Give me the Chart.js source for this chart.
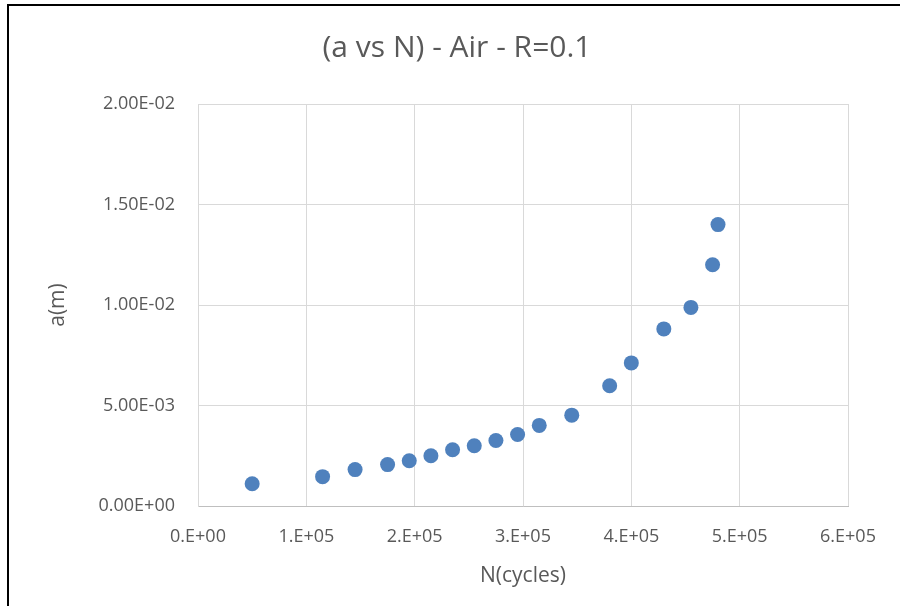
<!DOCTYPE html>
<html>
<head>
<meta charset="utf-8">
<script src="https://cdn.jsdelivr.net/npm/chart.js@4.4.1/dist/chart.umd.min.js"></script>
<style>
    html, body { margin: 0; padding: 0; background: #fff; }
    #wrap { position: relative; width: 900px; height: 606px; overflow: hidden; }
    #frame {
        position: absolute; left: 7px; top: 4px; width: 900px; height: 610px;
        border-left: 2px solid #000; border-top: 2px solid #000;
        pointer-events: none;
    }
</style>
</head>
<body>
<div id="wrap">
    <canvas id="chart" width="900" height="606"></canvas>
    <div id="frame"></div>
</div>
<script>
// data
const cycles = [50000, 115000, 145000, 175000, 195000, 215000, 235000, 255000, 275000,
                295000, 315000, 345000, 380000, 400000, 430000, 455000, 475000, 480000];
const crackLength = [0.00111, 0.00146, 0.00181, 0.00206, 0.00225, 0.0025, 0.0028, 0.003, 0.00326,
                     0.00356, 0.00401, 0.00452, 0.00598, 0.00712, 0.00881, 0.00988, 0.0120, 0.0140];
const xTicks = [0, 100000, 200000, 300000, 400000, 500000, 600000];
const yTicks = [0, 0.005, 0.01, 0.015, 0.02];

const TEXT = '#595959';
const FONT = "'Open Sans', 'Noto Sans', sans-serif";

// Excel-like scientific labels: 2.00E-02, 1.E+05
function sci(v, digits) {
    let [m, e] = Number(v).toExponential(digits).split('e');
    if (digits === 0) m += '.';
    const n = parseInt(e, 10);
    const sign = n < 0 ? '-' : '+';
    return m + 'E' + sign + String(Math.abs(n)).padStart(2, '0');
}

// title drawn centred on the whole frame, like the office chart
const titlePlugin = {
    id: 'frameTitle',
    afterDraw(chart) {
        const ctx = chart.ctx;
        ctx.save();
        ctx.fillStyle = TEXT;
        ctx.font = `30px ${FONT}`;
        ctx.textAlign = 'center';
        ctx.textBaseline = 'middle';
        ctx.fillText('(a vs N) - Air - R=0.1', 457, 48);
        ctx.restore();
    }
};

new Chart(document.getElementById('chart'), {
    type: 'scatter',
    data: {
        datasets: [{
            label: 'a',
            data: cycles.map((n, i) => ({ x: n, y: crackLength[i] })),
            backgroundColor: '#4F81BD',
            borderColor: '#4F81BD',
            borderWidth: 0,
            pointRadius: 7.5,
            pointHoverRadius: 7.5
        }]
    },
    options: {
        responsive: false,
        animation: false,
        layout: { padding: { left: 41, right: 52, top: 104, bottom: 13 } },
        plugins: {
            legend: { display: false },
            title: { display: false },
            tooltip: { enabled: false }
        },
        scales: {
            x: {
                type: 'linear',
                min: 0,
                max: 600000,
                afterBuildTicks(scale) { scale.ticks = xTicks.map(v => ({ value: v })); },
                afterFit(scale) { scale.height = 87; },
                grid: { color: '#D9D9D9', drawTicks: false },
                border: { color: '#BFBFBF' },
                ticks: {
                    padding: 20,
                    color: TEXT,
                    font: { family: FONT, size: 18 },
                    maxRotation: 0,
                    callback: v => sci(v, 0)
                },
                title: {
                    display: true,
                    text: 'N(cycles)',
                    color: TEXT,
                    font: { family: FONT, size: 21 },
                    padding: 4
                }
            },
            y: {
                type: 'linear',
                min: 0,
                max: 0.02,
                afterBuildTicks(scale) { scale.ticks = yTicks.map(v => ({ value: v })); },
                afterFit(scale) { scale.width = 157; },
                grid: { color: '#D9D9D9', drawTicks: false },
                border: { color: '#D9D9D9' },
                ticks: {
                    padding: 23,
                    color: TEXT,
                    font: { family: FONT, size: 18 },
                    callback: v => sci(v, 2)
                },
                title: {
                    display: true,
                    text: 'a(m)',
                    color: TEXT,
                    font: { family: FONT, size: 21 },
                    padding: 4
                }
            }
        }
    },
    plugins: [titlePlugin]
});
</script>
</body>
</html>
